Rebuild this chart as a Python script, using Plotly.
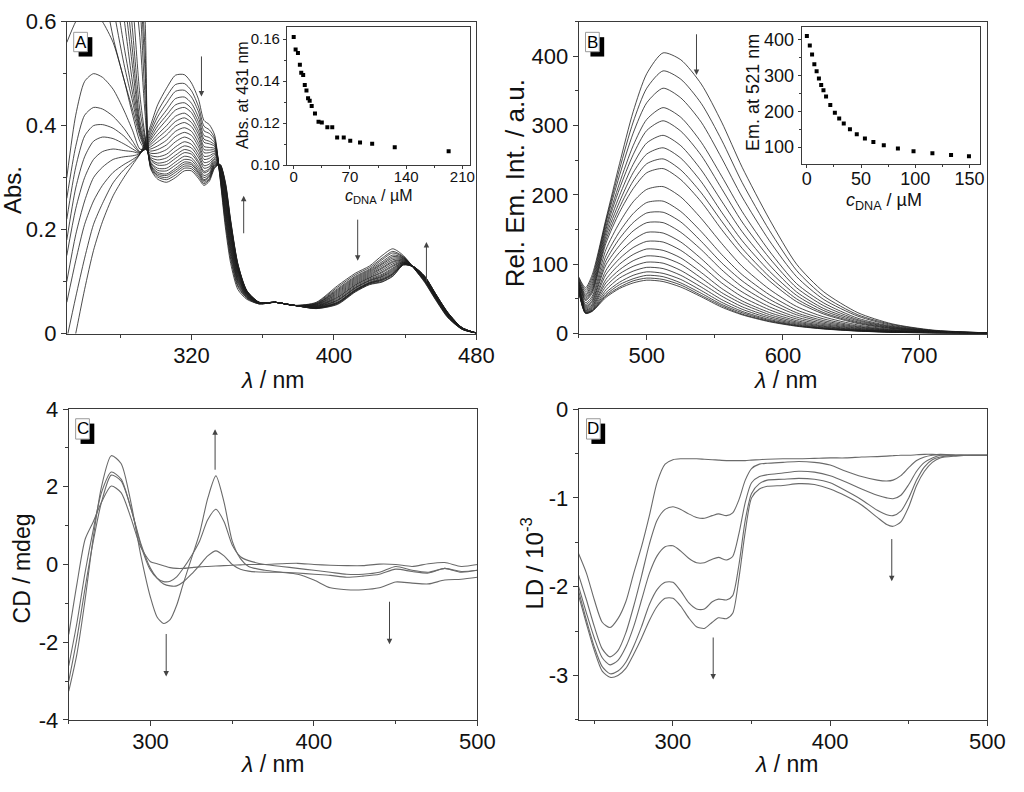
import plotly.graph_objects as go

# ---------------- Panel A: UV-Vis titration (Abs. vs wavelength) ----------------
A_wl = [250, 255, 260, 265, 270, 276, 282, 287, 291, 294, 297, 301, 306, 311, 316, 320, 324, 327, 330, 333,
        336, 339, 342, 346, 351, 358, 367, 378, 390, 402, 412, 420, 427, 433, 439, 445, 451, 457, 464, 472, 480]
A_curves = [
    [-0.08, 0.00, 0.085, 0.16, 0.215, 0.265, 0.30, 0.325, 0.345, 0.37, .400, .440, .472, .497, .498, .482, .450, .410, .402, .382, .300, .205, .135, .085, .066, .057, .060, .054, .060, .092, .116, .130, .150, .163, .150, .125, .098, .065, .030, .008, .001],
    [-0.01, 0.07, 0.145, 0.21, 0.25, 0.29, 0.315, 0.33, 0.345, 0.365, .393, .427, .456, .479, .481, .467, .436, .399, .392, .376, .302, .213, .143, .090, .068, .057, .060, .054, .059, .089, .113, .127, .145, .158, .148, .125, .099, .066, .031, .008, .001],
    [0.06, 0.14, 0.21, 0.255, 0.285, 0.31, 0.325, 0.335, 0.345, 0.362, .387, .417, .443, .466, .468, .455, .426, .390, .385, .372, .304, .219, .148, .093, .069, .057, .060, .054, .058, .086, .110, .124, .142, .155, .147, .125, .100, .067, .032, .008, .001],
    [0.10, 0.19, 0.255, 0.30, 0.32, 0.335, 0.34, 0.342, 0.346, 0.36, .381, .407, .430, .452, .455, .443, .415, .381, .377, .367, .306, .225, .154, .097, .070, .058, .060, .054, .057, .084, .108, .122, .138, .151, .146, .126, .101, .068, .032, .009, .001],
    [0.15, 0.24, 0.30, 0.335, 0.35, 0.355, 0.352, 0.35, 0.347, 0.358, .376, .399, .420, .440, .444, .433, .406, .374, .370, .363, .308, .230, .159, .100, .071, .058, .060, .054, .057, .082, .106, .120, .135, .148, .145, .126, .102, .069, .033, .009, .001],
    [0.18, 0.28, 0.34, 0.37, 0.378, 0.375, 0.365, 0.355, 0.348, 0.356, .372, .391, .411, .430, .435, .425, .398, .368, .365, .360, .309, .235, .163, .102, .072, .058, .060, .054, .056, .080, .104, .118, .133, .145, .144, .126, .102, .069, .033, .009, .001],
    [0.22, 0.32, 0.38, 0.40, 0.402, 0.395, 0.38, 0.362, 0.349, 0.355, .367, .383, .400, .418, .424, .414, .389, .360, .358, .356, .310, .240, .168, .105, .073, .058, .060, .054, .055, .078, .102, .116, .130, .142, .143, .126, .103, .070, .034, .009, .001],
    [0.26, 0.36, 0.42, 0.435, 0.432, 0.418, 0.395, 0.37, 0.35, 0.354, .363, .376, .391, .408, .415, .406, .382, .354, .353, .353, .312, .244, .172, .108, .074, .058, .060, .054, .055, .076, .100, .114, .127, .139, .142, .126, .103, .070, .035, .009, .001],
    [0.30, 0.42, 0.485, 0.50, 0.493, 0.47, 0.43, 0.39, 0.355, 0.354, .359, .369, .382, .399, .406, .398, .374, .348, .348, .350, .313, .249, .177, .110, .075, .059, .060, .054, .054, .074, .098, .112, .125, .137, .141, .127, .104, .071, .035, .010, .001],
    [0.56, 0.60, 0.625, 0.62, 0.60, 0.56, 0.49, 0.42, 0.37, 0.355, .355, .361, .372, .389, .396, .389, .366, .341, .342, .347, .314, .253, .181, .113, .075, .059, .060, .054, .053, .072, .096, .110, .122, .134, .140, .127, .105, .072, .036, .010, .001],
    [0.70, 0.76, 0.80, 0.78, 0.68, 0.57, 0.49, 0.43, 0.38, 0.356, .351, .354, .363, .379, .387, .381, .359, .335, .337, .344, .316, .257, .185, .115, .076, .059, .060, .054, .053, .070, .094, .108, .119, .131, .139, .127, .105, .072, .036, .010, .001],
    [0.78, 0.86, 0.90, 0.88, 0.77, 0.63, 0.52, 0.445, 0.385, 0.358, .347, .347, .354, .369, .378, .372, .351, .329, .331, .340, .317, .262, .189, .118, .077, .059, .060, .054, .052, .069, .093, .107, .117, .129, .138, .127, .106, .073, .037, .010, .001],
    [0.85, 0.95, 1.0, 0.98, 0.86, 0.69, 0.555, 0.46, 0.39, 0.36, .343, .340, .345, .359, .369, .364, .344, .323, .326, .337, .318, .266, .193, .120, .078, .059, .060, .054, .052, .067, .091, .105, .114, .126, .137, .127, .106, .073, .037, .010, .001],
    [0.95, 1.05, 1.1, 1.08, 0.96, 0.77, 0.61, 0.48, 0.395, 0.362, .339, .334, .338, .351, .361, .357, .338, .318, .321, .335, .319, .269, .196, .122, .079, .059, .060, .054, .051, .065, .089, .103, .112, .124, .137, .127, .107, .074, .037, .010, .001],
    [1.0, 1.15, 1.2, 1.18, 1.06, 0.85, 0.66, 0.51, 0.40, 0.365, .336, .328, .331, .343, .354, .350, .331, .312, .317, .332, .320, .273, .200, .124, .079, .059, .060, .054, .051, .064, .088, .102, .110, .122, .136, .127, .107, .074, .038, .010, .001],
    [1.1, 1.25, 1.3, 1.28, 1.16, 0.94, 0.71, 0.54, 0.41, 0.37, .334, .324, .325, .337, .348, .345, .327, .309, .314, .330, .321, .276, .202, .126, .080, .059, .060, .054, .050, .063, .087, .101, .109, .120, .135, .127, .108, .075, .038, .010, .001],
    [1.2, 1.35, 1.4, 1.38, 1.26, 1.03, 0.78, 0.58, 0.43, 0.375, .330, .318, .318, .330, .341, .338, .321, .304, .309, .328, .322, .279, .206, .128, .081, .060, .060, .054, .050, .061, .085, .099, .107, .118, .135, .128, .108, .075, .039, .010, .001],
    [1.3, 1.45, 1.5, 1.48, 1.36, 1.12, 0.86, 0.64, 0.46, 0.38, .328, .314, .313, .324, .335, .333, .316, .300, .306, .326, .323, .282, .208, .129, .081, .060, .060, .054, .049, .060, .084, .098, .105, .116, .134, .128, .109, .076, .039, .011, .001],
    [1.4, 1.55, 1.6, 1.58, 1.46, 1.22, 0.95, 0.71, 0.57, 0.42, .325, .310, .307, .318, .330, .328, .312, .296, .303, .324, .324, .284, .211, .131, .082, .060, .060, .054, .049, .059, .083, .097, .104, .115, .134, .128, .109, .076, .039, .011, .001],
    [1.5, 1.65, 1.7, 1.68, 1.56, 1.32, 1.04, 0.79, 0.64, 0.45, .324, .307, .304, .314, .326, .325, .309, .294, .301, .323, .324, .286, .212, .132, .082, .060, .060, .054, .049, .059, .083, .097, .103, .114, .133, .128, .109, .076, .039, .011, .001],
    [1.6, 1.75, 1.8, 1.78, 1.66, 1.42, 1.12, 0.86, 0.69, 0.50, .322, .304, .300, .310, .322, .321, .306, .291, .298, .321, .325, .288, .214, .133, .082, .060, .060, .054, .049, .058, .082, .096, .102, .113, .133, .128, .109, .076, .040, .011, .001],
    [1.7, 1.85, 1.9, 1.88, 1.76, 1.52, 1.2, 0.92, 0.73, 0.54, .320, .301, .296, .305, .318, .317, .302, .288, .296, .320, .325, .290, .216, .134, .083, .060, .060, .054, .048, .057, .081, .095, .100, .111, .132, .128, .110, .077, .040, .011, .001],
    [1.9, 2.05, 2.1, 2.08, 1.96, 1.72, 1.34, 1.0, 0.78, 0.60, .318, .297, .291, .300, .313, .313, .298, .285, .293, .318, .326, .292, .218, .135, .083, .060, .060, .054, .048, .056, .080, .094, .099, .110, .132, .128, .110, .077, .040, .011, .001],
]
# Inset A: Abs. at 431 nm vs c_DNA
IA_c = [0, 2.4, 5.3, 7.7, 9.4, 11.8, 13.8, 15.9, 17.9, 19.9, 22.4, 26.5, 30.9, 35, 41.9, 48, 54.1, 62.3, 70.4, 82.6, 97.7, 125.8, 192.9]
IA_abs = [0.1611, 0.1551, 0.1534, 0.1478, 0.1440, 0.1429, 0.1382, 0.1356, 0.1318, 0.1307, 0.1282, 0.1246, 0.1206,
          0.1203, 0.1180, 0.1180, 0.1131, 0.1131, 0.1116, 0.1107, 0.1101, 0.1085, 0.1066]

# ---------------- Panel B: emission titration ----------------
B_wl = [450, 455, 460, 470, 480, 490, 500, 512, 525, 540, 555, 570, 590, 610, 630, 655, 680, 710, 750]
B_curves = [
    [82, 66, 85, 165, 245, 320, 375, 405, 395, 360, 305, 240, 165, 100, 60, 30, 14, 5, 1],
    [80.5, 63, 81, 162, 237, 305, 354, 379, 367, 332, 279, 218, 149, 91, 54, 27, 13, 4.5, 1],
    [79, 60, 77, 159, 228, 289, 333, 354, 340, 305, 253, 197, 134, 82, 49, 25, 11.7, 4.2, 0.9],
    [77, 57, 73, 154, 217, 271, 309, 326, 312, 276, 227, 176, 119, 72, 44, 22, 10.5, 3.8, 0.8],
    [76, 55, 69.5, 150, 209, 258, 293, 307, 292, 257, 209, 161, 109, 66, 40, 20, 9.7, 3.5, 0.8],
    [75, 53, 66, 145, 199, 244, 275, 286, 271, 236, 191, 147, 99, 60, 36, 18.5, 8.9, 3.3, 0.7],
    [74, 51, 63, 140, 190, 232, 259, 268, 253, 219, 175, 134, 90, 55, 33, 16.8, 8.2, 3, 0.7],
    [73, 49, 61, 135, 182, 220, 245, 252, 236, 203, 162, 123, 82, 50, 30, 15.5, 7.5, 2.8, 0.7],
    [72, 47.5, 58.5, 130, 175, 209, 232, 238, 222, 190, 150, 114, 76, 46, 28, 14.3, 7, 2.7, 0.6],
    [70, 44.5, 54, 121, 160, 190, 208, 212, 197, 166, 130, 97, 64, 39, 24, 12.3, 6, 2.3, 0.6],
    [69, 42, 51, 112, 147, 173, 189, 191, 176, 147, 114, 85, 56, 34, 21, 10.7, 5.3, 2.1, 0.5],
    [68, 40, 48, 105, 137, 160, 174, 175, 161, 133, 102, 76, 49.5, 30, 18.5, 9.6, 4.8, 1.9, 0.5],
    [67, 38.5, 46, 99, 127, 148, 160, 160, 146, 121, 92, 67.5, 44, 27, 16.4, 8.6, 4.3, 1.7, 0.4],
    [66, 37, 43.5, 91, 117, 135, 146, 145, 132, 108, 81, 60, 38.6, 23.7, 14.5, 7.6, 3.8, 1.5, 0.4],
    [65.5, 35.5, 41.5, 85, 108, 124, 133, 132, 120, 98, 73, 53, 34.3, 21, 12.9, 6.8, 3.4, 1.4, 0.4],
    [65, 34, 39.5, 78, 100, 114, 122, 120, 109, 88, 65, 47, 30.4, 18.6, 11.4, 6, 3, 1.3, 0.3],
    [64, 33, 38, 73, 92, 105, 112, 110, 100, 80, 59, 43, 27.3, 16.7, 10.3, 5.4, 2.7, 1.2, 0.3],
    [63.5, 32, 36.5, 68, 86, 97, 103, 101.5, 91, 73, 54, 38.6, 24.6, 15.1, 9.3, 4.9, 2.5, 1.1, 0.3],
    [63, 31, 35, 63, 80, 90, 95.5, 93.7, 84, 67, 49, 35, 22.3, 13.7, 8.4, 4.5, 2.3, 1, 0.3],
    [62.7, 30.4, 34, 59, 74, 84, 89, 86.8, 78, 62, 45, 32, 20.3, 12.5, 7.7, 4.1, 2.1, 0.9, 0.3],
    [62.4, 29.8, 33, 56, 70.5, 79, 84, 82, 73, 58, 42, 30, 18.9, 11.6, 7.2, 3.8, 2, 0.8, 0.25],
    [62.2, 29.3, 32.5, 54, 67, 76, 80, 78, 70, 55, 40, 28, 17.8, 11, 6.8, 3.6, 1.8, 0.8, 0.25],
    [62, 29, 32, 52, 65, 73, 77, 75, 67, 53, 38, 27, 17, 10.5, 6.5, 3.5, 1.8, 0.8, 0.2],
]
# Inset B: Em. at 521 nm vs c_DNA
IB_c = [0, 2.7, 4.8, 6.9, 9, 11.1, 13.2, 15.3, 17.7, 21.6, 25.8, 29.8, 34, 39.7, 46, 53.5, 61.3, 70.9, 83.9, 98.3,
        115.7, 132.9, 149.4]
IB_em = [409, 383, 358, 331, 311, 291, 273, 258, 241, 217, 196, 180, 166, 150, 136, 124, 114, 105, 96, 88.5, 83,
         78.4, 75]

# ---------------- Panel C: CD spectra ----------------
C_wl = [250, 255, 260, 265, 270, 276, 282, 288, 294, 300, 304, 308, 312, 316, 320, 325, 330, 335, 340, 345, 350,
        355, 360, 370, 380, 390, 400, 410, 420, 430, 440, 450, 460, 470, 480, 490, 500]
C_curves = [
    [-1.8, -0.5, 0.65, 1.1, 1.6, 2.02, 1.85, 1.2, 0.45, 0.07, 0.02, -0.03, -0.08, -0.1, -0.1, -0.08, -0.06, -0.05,
     -0.04, -0.03, -0.02, -0.01, 0.0, 0.0, 0.02, 0.03, 0.0, -0.02, -0.03, -0.03, 0.01, 0.0, -0.05, 0.02, 0.05, -0.05, 0.0],
    [-3.0, -1.9, -0.6, 0.6, 1.6, 2.3, 2.15, 1.45, 0.55, -0.1, -0.35, -0.5, -0.55, -0.55, -0.45, -0.25, -0.02, 0.22,
     0.35, 0.22, 0.0, -0.12, -0.17, -0.2, -0.2, -0.22, -0.25, -0.28, -0.33, -0.3, -0.25, -0.12, -0.18, -0.22, -0.1, -0.2, -0.15],
    [-2.6, -1.5, -0.2, 0.9, 1.85, 2.38, 2.2, 1.45, 0.5, -0.15, -0.35, -0.44, -0.43, -0.32, -0.1, 0.22, 0.6, 1.15,
     1.42, 1.1, 0.5, 0.2, 0.1, 0.0, -0.05, -0.1, -0.15, -0.2, -0.25, -0.25, -0.2, -0.05, -0.15, -0.2, -0.1, -0.18, -0.15],
    [-3.26, -2.3, -0.9, 0.7, 2.0, 2.8, 2.6, 1.6, 0.25, -0.85, -1.35, -1.52, -1.42, -1.05, -0.5, 0.15, 0.8, 1.7,
     2.28, 1.6, 0.6, 0.15, -0.05, -0.15, -0.2, -0.25, -0.4, -0.6, -0.65, -0.65, -0.6, -0.45, -0.48, -0.5, -0.4, -0.38, -0.33],
]

# ---------------- Panel D: LD spectra ----------------
D_wl = [240, 245, 250, 255, 260, 265, 270, 275, 280, 285, 290, 295, 300, 305, 310, 315, 320, 325, 329, 334, 338,
        342, 346, 350, 355, 360, 370, 380, 390, 400, 410, 420, 430, 436, 440, 445, 450, 455, 460, 465, 470, 480, 490, 500]
D_curves = [
    [-1.63, -1.85, -2.15, -2.4, -2.46, -2.36, -2.17, -1.85, -1.55, -1.2, -0.82, -0.62, -0.57, -0.56, -0.56, -0.56,
     -0.565, -0.57, -0.575, -0.58, -0.58, -0.58, -0.58, -0.575, -0.57, -0.565, -0.56, -0.56, -0.555, -0.55, -0.55,
     -0.54, -0.535, -0.53, -0.525, -0.52, -0.52, -0.515, -0.51, -0.51, -0.515, -0.52, -0.52, -0.52],
    [-1.87, -2.15, -2.45, -2.7, -2.79, -2.72, -2.52, -2.22, -1.88, -1.52, -1.25, -1.13, -1.1, -1.13, -1.18, -1.22,
     -1.23, -1.2, -1.18, -1.2, -1.17, -1.02, -0.8, -0.67, -0.62, -0.61, -0.6, -0.59, -0.6, -0.63, -0.7, -0.76,
     -0.8, -0.81, -0.8, -0.75, -0.66, -0.58, -0.54, -0.52, -0.51, -0.52, -0.52, -0.52],
    [-2.0, -2.3, -2.58, -2.8, -2.88, -2.83, -2.68, -2.45, -2.15, -1.85, -1.65, -1.55, -1.54, -1.6, -1.68, -1.73,
     -1.73, -1.69, -1.67, -1.7, -1.66, -1.4, -1.05, -0.83, -0.76, -0.74, -0.72, -0.7, -0.71, -0.75, -0.82, -0.9,
     -0.97, -1.0, -1.01, -0.97, -0.85, -0.7, -0.6, -0.55, -0.52, -0.52, -0.52, -0.52],
    [-2.05, -2.38, -2.68, -2.9, -2.98, -2.95, -2.85, -2.67, -2.45, -2.2, -2.03, -1.95, -1.95, -2.05, -2.18, -2.25,
     -2.25, -2.17, -2.14, -2.15, -2.1, -1.75, -1.25, -0.95, -0.84, -0.8, -0.79, -0.78, -0.79, -0.83, -0.92, -1.02,
     -1.14, -1.19, -1.2, -1.15, -1.0, -0.8, -0.65, -0.57, -0.54, -0.52, -0.52, -0.52],
    [-2.1, -2.42, -2.72, -2.95, -3.02, -3.0, -2.92, -2.76, -2.58, -2.38, -2.22, -2.13, -2.13, -2.22, -2.35, -2.45,
     -2.47, -2.4, -2.35, -2.36, -2.3, -1.9, -1.38, -1.0, -0.9, -0.87, -0.86, -0.84, -0.85, -0.9, -0.98, -1.08,
     -1.22, -1.3, -1.32, -1.27, -1.1, -0.86, -0.7, -0.6, -0.55, -0.53, -0.52, -0.52],
]

# arrows: (x, y_tail, y_head) in data units of each panel
A_arrows = [(325.6, 0.536, 0.456), (349.3, 0.19, 0.265), (413.3, 0.222, 0.14), (451.9, 0.097, 0.176)]
B_arrows = [(536.5, 434, 373)]
C_arrows = [(339.5, 2.40, 3.48), (309.6, -1.75, -2.88), (446.2, -0.92, -2.05)]
D_arrows = [(325.6, -2.555, -3.046), (439.2, -1.447, -1.938)]

# ---------------- figure ----------------
W, H = 1024, 792
def X(px):
    return px / W
def Y(py):
    return 1 - py / H

FONT = "Arial, Liberation Sans, sans-serif"
AXC = "#3a3a3a"
TXT = "#111111"

fig = go.Figure()

def add_lines(wl, curves, xa, ya, color, width):
    for ys in curves:
        fig.add_trace(go.Scatter(x=wl, y=ys, mode="lines", xaxis=xa, yaxis=ya,
                                 line=dict(color=color, width=width, shape="spline", smoothing=0.7),
                                 showlegend=False, hoverinfo="skip"))

add_lines(A_wl, A_curves, "x", "y", "#1e1e1e", 0.8)
add_lines(B_wl, B_curves, "x2", "y2", "#1e1e1e", 0.8)
add_lines(C_wl, C_curves, "x3", "y3", "#6a6a6a", 1.1)
add_lines(D_wl, D_curves, "x4", "y4", "#6a6a6a", 1.1)

fig.add_trace(go.Scatter(x=IA_c, y=IA_abs, mode="markers", xaxis="x5", yaxis="y5",
                         marker=dict(symbol="square", size=4, color="#000"), showlegend=False, hoverinfo="skip"))
fig.add_trace(go.Scatter(x=IB_c, y=IB_em, mode="markers", xaxis="x6", yaxis="y6",
                         marker=dict(symbol="square", size=4, color="#000"), showlegend=False, hoverinfo="skip"))

def axis(domain, rng, anchor, size=22, ticklen=5, minorlen=3, **kw):
    d = dict(domain=domain, range=rng, anchor=anchor, showline=True, linecolor=AXC, linewidth=1,
             mirror=True, ticks="outside", ticklen=ticklen, tickwidth=1, tickcolor=AXC,
             showgrid=False, zeroline=False, tickfont=dict(size=size, color=TXT, family=FONT),
             minor=dict(ticks="outside", ticklen=minorlen, tickwidth=1, tickcolor=AXC, showgrid=False))
    minor = kw.pop("minor", None)
    if minor:
        d["minor"].update(minor)
    d.update(kw)
    return d

top = [Y(332), Y(10)]
bot = [Y(731), Y(410)]
layout = dict(
    width=W, height=H, margin=dict(l=0, r=0, t=0, b=0),
    paper_bgcolor="white", plot_bgcolor="white",
    font=dict(family=FONT, color=TXT),
    xaxis=axis([X(68), X(485)], [250, 480], "y", tick0=0, dtick=80, minor=dict(dtick=40), ticklabelstandoff=-3),
    yaxis=axis(top, [0, 0.6], "x", tickvals=[0, 0.2, 0.4, 0.6], ticktext=["0", "0.2", "0.4", "0.6"],
               minor=dict(tickvals=[0.1, 0.3, 0.5])),
    xaxis2=axis([X(589), X(1005)], [450, 750], "y2", tick0=0, dtick=100, minor=dict(dtick=50), ticklabelstandoff=-3),
    yaxis2=axis(top, [0, 450], "x2", tick0=0, dtick=100, minor=dict(dtick=50)),
    xaxis3=axis([X(70), X(486)], [250, 500], "y3", tick0=0, dtick=100, minor=dict(dtick=50), ticklabelstandoff=-3),
    yaxis3=axis(bot, [-4, 4], "x3", tickvals=[-4, -2, 0, 2, 4], ticktext=["-4", "-2", "0", "2", "4"],
                minor=dict(tickvals=[-3, -1, 1, 3])),
    xaxis4=axis([X(589), X(1005)], [240, 500], "y4", tick0=0, dtick=100, minor=dict(dtick=50), ticklabelstandoff=-3),
    yaxis4=axis(bot, [-3.5, 0], "x4", tickvals=[0, -1, -2, -3], ticktext=["0", "-1", "-2", "-3"],
                minor=dict(tickvals=[-0.5, -1.5, -2.5, -3.5])),
    xaxis5=axis([X(292), X(478)], [-8.5, 219], "y5", size=15, ticklen=3, minorlen=2,
                tickvals=[0, 70, 140, 210], minor=dict(tickvals=[35, 105, 175]), ticklabelstandoff=-5),
    yaxis5=axis([Y(158), Y(16)], [0.10, 0.1656], "x5", size=15, ticklen=3, minorlen=2,
                tickvals=[0.10, 0.12, 0.14, 0.16], ticktext=["0.10", "0.12", "0.14", "0.16"],
                minor=dict(tickvals=[0.11, 0.13, 0.15])),
    xaxis6=axis([X(816), X(998)], [-4.8, 160], "y6", size=18, ticklen=3, minorlen=2,
                tickvals=[0, 50, 100, 150], minor=dict(tickvals=[25, 75, 125]), ticklabelstandoff=-5),
    yaxis6=axis([Y(157), Y(16)], [53, 433], "x6", size=18, ticklen=3, minorlen=2,
                tickvals=[100, 200, 300, 400], minor=dict(tickvals=[150, 250, 350])),
)
fig.update_layout(**layout)

ann = []
def title(text, x, y, size, angle=0):
    ann.append(dict(text=text, x=X(x), y=Y(y), xref="paper", yref="paper", showarrow=False,
                    textangle=angle, xanchor="center", yanchor="middle",
                    font=dict(size=size, color=TXT, family=FONT)))

lam = "<i>\u03bb</i> / nm"
title("Abs.", 12, 184, 24, -90)
title(lam, 277, 380, 23)
title("Rel. Em. Int. / a.u.", 525, 177, 26, -90)
title(lam, 799, 380, 23)
title("CD / mdeg", 22, 575, 23, -90)
title(lam, 277, 777, 23)
title("LD / 10<sup>-3</sup>", 542, 569, 24, -90)
title(lam, 800, 777, 23)
title("Abs. at 431 nm", 247, 86, 16, -90)
title("<i>c</i><sub>DNA</sub> / \u00b5M", 386, 190, 16)
title("Em. at 521 nm", 767, 83, 18, -90)
title("<i>c</i><sub>DNA</sub> / \u00b5M", 900, 196, 18)

shapes = []
def label_box(letter, x0, y0, x1, y1):
    shapes.append(dict(type="rect", xref="paper", yref="paper", x0=X(x0 + 5), x1=X(x1 + 5), y0=Y(y1 + 5), y1=Y(y0 + 5),
                       fillcolor="#000", line=dict(width=0)))
    shapes.append(dict(type="rect", xref="paper", yref="paper", x0=X(x0), x1=X(x1), y0=Y(y1), y1=Y(y0),
                       fillcolor="#fff", line=dict(width=1, color="#9a9a9a")))
    ann.append(dict(text=letter, x=X((x0 + x1) / 2), y=Y((y0 + y1) / 2), xref="paper", yref="paper",
                    showarrow=False, xanchor="center", yanchor="middle",
                    font=dict(size=17, color="#000", family=FONT)))

label_box("A", 75, 21, 89, 41)
label_box("B", 596, 21, 610, 41)
label_box("C", 77, 420, 91, 441)
label_box("D", 597, 420, 611, 441)

def arrows(lst, xa, ya):
    for (x, yt, yh) in lst:
        ann.append(dict(text="", x=x, y=yh, ax=x, ay=yt, xref=xa, yref=ya, axref=xa, ayref=ya,
                        showarrow=True, arrowhead=2, arrowsize=1.1, arrowwidth=1, arrowcolor="#444"))

arrows(A_arrows, "x", "y")
arrows(B_arrows, "x2", "y2")
arrows(C_arrows, "x3", "y3")
arrows(D_arrows, "x4", "y4")

fig.update_layout(annotations=ann, shapes=shapes)
fig.write_html("out.html")
